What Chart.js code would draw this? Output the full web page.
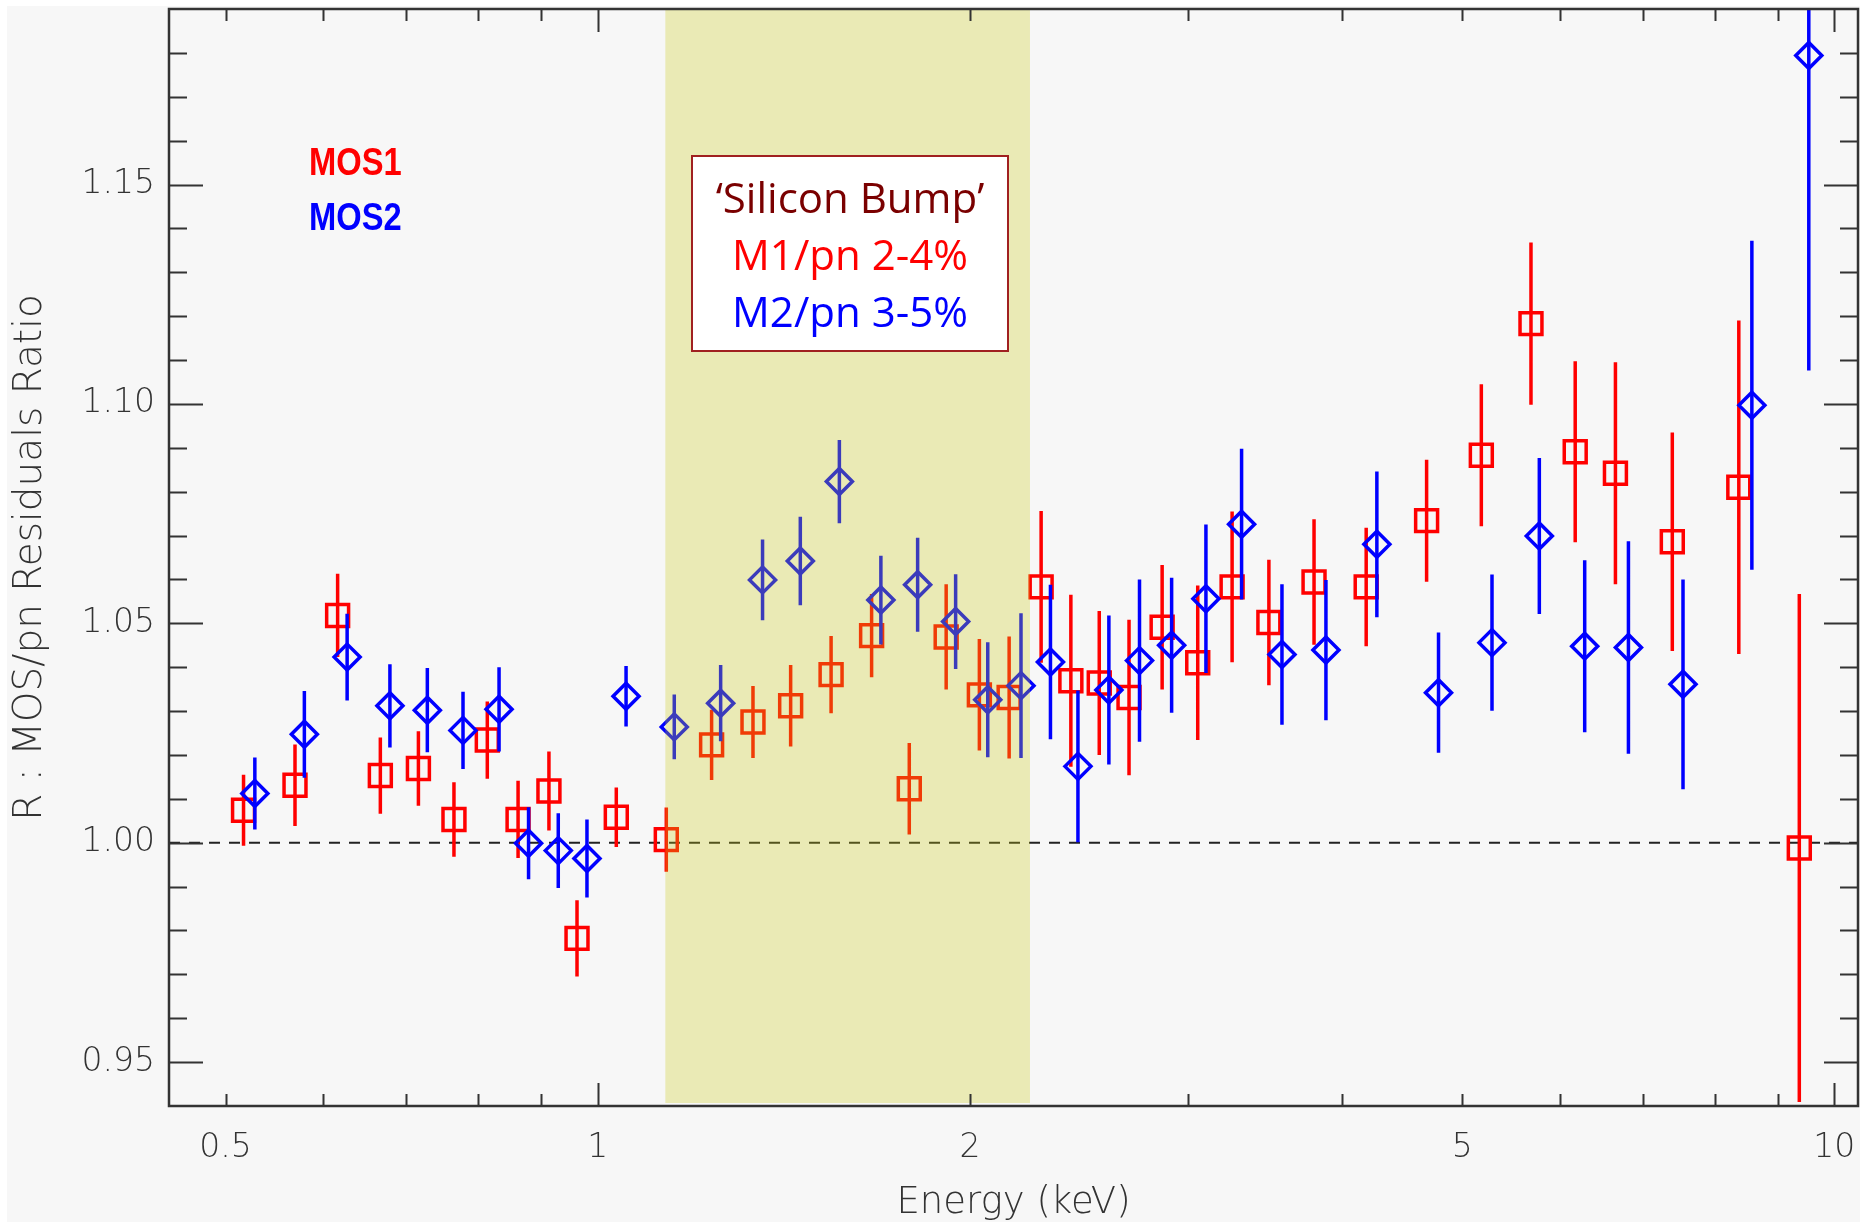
<!DOCTYPE html>
<html>
<head>
<meta charset="utf-8">
<script src="https://cdn.jsdelivr.net/npm/chart.js@4.4.0/dist/chart.umd.min.js"></script>
<style>
  html, body { margin: 0; padding: 0; background: #fff; }
  canvas { display: block; }
</style>
</head>
<body>
<canvas id="myChart" width="1860" height="1223"></canvas>
<script>
const mos1Energy = [0.517, 0.569, 0.616, 0.667, 0.716, 0.765, 0.814, 0.862, 0.913, 0.962,
  1.035, 1.136, 1.236, 1.335, 1.432, 1.544, 1.665, 1.786, 1.913, 2.035,
  2.151, 2.283, 2.413, 2.544, 2.689, 2.860, 3.056, 3.258, 3.489, 3.795,
  4.182, 4.680, 5.182, 5.684, 6.172, 6.652, 7.395, 8.370, 9.368]
const mos1Ratio = [1.0074, 1.0131, 1.0518, 1.0153, 1.0169, 1.0053, 1.0234, 1.0053, 1.0118, 0.9782,
  1.0058, 1.0007, 1.0223, 1.0275, 1.0312, 1.0383, 1.0472, 1.0123, 1.0469, 1.0337,
  1.0331, 1.0583, 1.0369, 1.0364, 1.0331, 1.0491, 1.0410, 1.0583, 1.0502, 1.0594,
  1.0583, 1.0734, 1.0883, 1.1183, 1.0891, 1.0842, 1.0686, 1.0810, 0.9988]
const mos1Err = [0.0081, 0.0093, 0.0095, 0.0087, 0.0085, 0.0085, 0.0088, 0.0088, 0.0090, 0.0087,
  0.0068, 0.0073, 0.0080, 0.0082, 0.0093, 0.0088, 0.0095, 0.0104, 0.0120, 0.0127,
  0.0139, 0.0173, 0.0196, 0.0164, 0.0177, 0.0142, 0.0176, 0.0172, 0.0143, 0.0143,
  0.0135, 0.0139, 0.0162, 0.0185, 0.0206, 0.0253, 0.0249, 0.0380, 0.0579]

const mos2Energy = [0.528, 0.579, 0.627, 0.679, 0.728, 0.778, 0.832, 0.879, 0.929, 0.980,
  1.054, 1.153, 1.257, 1.359, 1.458, 1.568, 1.694, 1.814, 1.947, 2.067,
  2.199, 2.323, 2.445, 2.590, 2.742, 2.911, 3.103, 3.316, 3.575, 3.880,
  4.266, 4.785, 5.286, 5.773, 6.282, 6.815, 7.544, 8.576, 9.535]
const mos2Ratio = [1.0112, 1.0247, 1.0423, 1.0312, 1.0302, 1.0256, 1.0304, 0.9999, 0.9982, 0.9964,
  1.0334, 1.0264, 1.0318, 1.0599, 1.0642, 1.0823, 1.0553, 1.0588, 1.0504, 1.0326,
  1.0358, 1.0412, 1.0174, 1.0348, 1.0415, 1.0450, 1.0556, 1.0726, 1.0429, 1.0439,
  1.0680, 1.0342, 1.0456, 1.0699, 1.0448, 1.0445, 1.0361, 1.0997, 1.1794]
const mos2Err = [0.0082, 0.0099, 0.0099, 0.0095, 0.0096, 0.0088, 0.0096, 0.0082, 0.0085, 0.0089,
  0.0069, 0.0074, 0.0087, 0.0092, 0.0101, 0.0095, 0.0101, 0.0107, 0.0108, 0.0131,
  0.0165, 0.0176, 0.0173, 0.0170, 0.0185, 0.0154, 0.0169, 0.0172, 0.0160, 0.0160,
  0.0166, 0.0137, 0.0155, 0.0178, 0.0196, 0.0242, 0.0239, 0.0375, 0.0718]

const xLabelTicks = [0.5, 1, 2, 5, 10]
const xMinorTicks = [0.5, 0.6, 0.7, 0.8, 0.9, 2, 3, 4, 5, 6, 7, 8, 9]
const xMajorTicks = [1, 10]
const yLabelTicks = [0.95, 1.00, 1.05, 1.10, 1.15]
const yMinorStep = 0.01
const xRange = [0.45, 10.45]
const yRange = [0.94, 1.19]
const bumpRange = [1.134, 2.236]
const boxLines = ['\u2018Silicon Bump\u2019', 'M1/pn 2-4%', 'M2/pn 3-5%']
const legendLabels = ['MOS1', 'MOS2']

const RED = '#ff0000'
const BLUE = '#0000ff'
const AXIS = '#333333'
const AXIS_FONT = 'DejaVu Sans'

let points = (xs, ys) => xs.map((x, i) => ({ x: x, y: ys[i] }))

let errorSegments = (xs, ys, es) => {
  let pts = []
  for (let i = 0; i < xs.length; i++) {
    pts.push({ x: xs[i], y: ys[i] - es[i] })
    pts.push({ x: xs[i], y: ys[i] + es[i] })
    pts.push({ x: xs[i], y: null })
  }
  return pts
}

const background = {
  id: 'background',
  beforeDraw(chart) {
    let ctx = chart.ctx
    ctx.save()
    ctx.fillStyle = '#ffffff'
    ctx.fillRect(0, 0, chart.width, chart.height)
    ctx.fillStyle = '#f7f7f7'
    ctx.fillRect(7, 6, chart.width - 7, chart.height - 7)
    ctx.restore()
  }
}

const overlay = {
  id: 'overlay',
  afterDatasetsDraw(chart) {
    let ctx = chart.ctx
    let area = chart.chartArea
    let xs = chart.scales.x
    ctx.save()
    // shaded silicon band sits on top of the points
    let x0 = xs.getPixelForValue(bumpRange[0])
    let x1 = xs.getPixelForValue(bumpRange[1])
    ctx.fillStyle = 'rgba(205, 205, 20, 0.29)'
    ctx.fillRect(x0, area.top, x1 - x0, area.bottom - area.top - 3)

    // annotation box
    ctx.fillStyle = '#ffffff'
    ctx.fillRect(692, 156, 316, 195)
    ctx.strokeStyle = '#a02020'
    ctx.lineWidth = 2
    ctx.strokeRect(692, 156, 316, 195)
    ctx.font = '42px "Open Sans"'
    ctx.textAlign = 'center'
    ctx.textBaseline = 'alphabetic'
    let colors = ['#7a0000', RED, BLUE]
    let baselines = [213, 270, 327]
    boxLines.forEach((t, i) => {
      ctx.fillStyle = colors[i]
      ctx.fillText(t, 850, baselines[i])
    })

    // legend
    ctx.font = 'bold 38px "Liberation Sans"'
    ctx.textAlign = 'left'
    let lcolors = [RED, BLUE]
    let lbase = [175, 230]
    legendLabels.forEach((t, i) => {
      ctx.save()
      ctx.translate(309, lbase[i])
      ctx.scale(0.86, 1)
      ctx.fillStyle = lcolors[i]
      ctx.fillText(t, 0, 0)
      ctx.restore()
    })
    ctx.restore()
  }
}

const frame = {
  id: 'frame',
  afterDraw(chart) {
    let ctx = chart.ctx
    let a = chart.chartArea
    let xs = chart.scales.x
    let ys = chart.scales.y
    ctx.save()
    ctx.strokeStyle = AXIS
    ctx.lineWidth = 2.5
    ctx.strokeRect(a.left, a.top, a.right - a.left, a.bottom - a.top)
    ctx.lineWidth = 2
    ctx.beginPath()
    let xTick = (v, len) => {
      let p = Math.round(xs.getPixelForValue(v)) + 0.5
      ctx.moveTo(p, a.bottom); ctx.lineTo(p, a.bottom - len)
      ctx.moveTo(p, a.top); ctx.lineTo(p, a.top + len)
    }
    xMinorTicks.forEach(v => xTick(v, 12))
    xMajorTicks.forEach(v => xTick(v, 23))
    let n = Math.round((yRange[1] - yRange[0]) / yMinorStep)
    for (let i = 0; i <= n; i++) {
      let v = Math.round((yRange[0] + i * yMinorStep) * 100) / 100
      if (v <= yRange[0] || v >= yRange[1]) continue
      let major = yLabelTicks.some(t => Math.abs(t - v) < 1e-6)
      let len = major ? 34 : 18
      let p = Math.round(ys.getPixelForValue(v)) + 0.5
      ctx.moveTo(a.left, p); ctx.lineTo(a.left + len, p)
      ctx.moveTo(a.right, p); ctx.lineTo(a.right - len, p)
    }
    ctx.stroke()
    ctx.restore()
  }
}

let ctx = document.getElementById('myChart')
let chart = new Chart(ctx, {
  type: 'scatter',
  data: {
    datasets: [
      {
        label: 'MOS2',
        data: points(mos2Energy, mos2Ratio),
        pointStyle: 'rectRot',
        pointRadius: 13,
        pointBorderWidth: 3.5,
        borderColor: BLUE,
        backgroundColor: 'rgba(0,0,0,0)',
        order: 0
      },
      {
        label: 'MOS2 err',
        type: 'line',
        data: errorSegments(mos2Energy, mos2Ratio, mos2Err),
        borderColor: BLUE,
        borderWidth: 3.5,
        pointRadius: 0,
        spanGaps: false,
        fill: false,
        order: 1
      },
      {
        label: 'MOS1',
        data: points(mos1Energy, mos1Ratio),
        pointStyle: 'rect',
        pointRadius: 15.5,
        pointBorderWidth: 3.5,
        borderColor: RED,
        backgroundColor: 'rgba(0,0,0,0)',
        order: 2
      },
      {
        label: 'MOS1 err',
        type: 'line',
        data: errorSegments(mos1Energy, mos1Ratio, mos1Err),
        borderColor: RED,
        borderWidth: 3.5,
        pointRadius: 0,
        spanGaps: false,
        fill: false,
        order: 3
      },
      {
        label: 'unity',
        type: 'line',
        data: [{ x: xRange[0], y: 1 }, { x: xRange[1], y: 1 }],
        borderColor: '#222',
        borderWidth: 2,
        borderDash: [11, 9],
        pointRadius: 0,
        fill: false,
        order: 4
      }
    ]
  },
  options: {
    responsive: false,
    animation: false,
    events: [],
    layout: { autoPadding: false, padding: { top: 9, right: 2, left: 0, bottom: 0 } },
    plugins: { legend: { display: false }, tooltip: { enabled: false } },
    scales: {
      x: {
        type: 'logarithmic',
        min: xRange[0],
        max: xRange[1],
        bounds: 'data',
        grid: { display: false, drawTicks: false },
        border: { display: false },
        afterBuildTicks: (scale) => { scale.ticks = xLabelTicks.map(v => ({ value: v })) },
        afterFit: (scale) => {
          scale.height = 117
          scale.paddingLeft = 0
          scale.paddingRight = 0
        },
        ticks: {
          autoSkip: false,
          maxRotation: 0,
          padding: 23,
          color: AXIS,
          font: { family: AXIS_FONT, size: 33, weight: 200 },
          callback: (v) => String(v)
        },
        title: {
          display: true,
          text: 'Energy (keV)',
          color: AXIS,
          font: { family: AXIS_FONT, size: 37, weight: 200 },
          padding: { top: 0, bottom: -3 }
        }
      },
      y: {
        min: yRange[0],
        max: yRange[1],
        bounds: 'data',
        grid: { display: false, drawTicks: false },
        border: { display: false },
        afterBuildTicks: (scale) => { scale.ticks = yLabelTicks.map(v => ({ value: v })) },
        afterFit: (scale) => {
          scale.width = 169
          scale.paddingTop = 0
          scale.paddingBottom = 0
        },
        ticks: {
          padding: 14,
          color: AXIS,
          font: { family: AXIS_FONT, size: 33, weight: 200 },
          callback: (v) => Number(v).toFixed(2)
        },
        title: {
          display: true,
          text: 'R : MOS/pn Residuals Ratio',
          color: AXIS,
          font: { family: AXIS_FONT, size: 39, weight: 200 },
          padding: { top: 7, bottom: 0 }
        }
      }
    }
  },
  plugins: [background, overlay, frame]
})
</script>
</body>
</html>
